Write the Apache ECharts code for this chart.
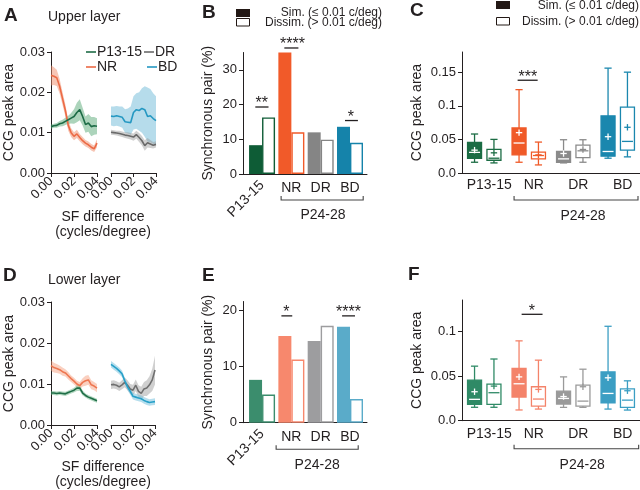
<!DOCTYPE html>
<html><head><meta charset="utf-8">
<script src="https://cdn.jsdelivr.net/npm/echarts@6/dist/echarts.min.js"></script>
<style>html,body{margin:0;padding:0;background:#fff}#c{width:640px;height:490px}</style>
</head><body><div id="c"></div>
<script>
// ---------------- data ----------------
const groups = ['P13-15', 'NR', 'DR', 'BD'];
const sfX = [0,0.0025,0.005,0.0075,0.01,0.0125,0.015,0.0175,0.02,0.0225,0.025,0.0275,0.03,0.0325,0.035,0.0375,0.04];
const sfTicks = [0, 0.02, 0.04];

// Panel A (upper layer) mean and confidence band
const upP13Mean = [.0115,.0117,.0118,.0122,.0124,.0128,.0132,.0136,.0140,.0150,.0157,.0140,.0120,.0124,.0115,.0117,.0116];
const upP13Lo   = [.0110,.0112,.0112,.0115,.0116,.0119,.0122,.0123,.0122,.0126,.0131,.0118,.0100,.0102,.0091,.0095,.0096];
const upP13Hi   = [.0120,.0122,.0124,.0129,.0132,.0137,.0142,.0149,.0158,.0174,.0183,.0162,.0140,.0146,.0139,.0139,.0136];
const upNRMean  = [.0242,.0240,.0236,.0215,.0185,.0155,.0118,.0100,.0091,.0097,.0088,.0080,.0074,.0070,.0064,.0060,.0074];
const upNRLo    = [.0217,.0218,.0216,.0197,.0169,.0140,.0105,.0089,.0081,.0087,.0079,.0071,.0066,.0062,.0056,.0052,.0064];
const upNRHi    = [.0267,.0262,.0256,.0233,.0201,.0170,.0131,.0111,.0101,.0107,.0097,.0089,.0082,.0078,.0072,.0068,.0084];
const upDRMean  = [.0101,.0100,.0099,.0098,.0096,.0094,.0093,.0091,.0089,.0095,.0088,.0080,.0068,.0075,.0072,.0069,.0071];
const upDRLo    = [.0095,.0094,.0093,.0091,.0089,.0087,.0085,.0083,.0080,.0085,.0077,.0068,.0055,.0063,.0062,.0061,.0063];
const upDRHi    = [.0107,.0106,.0105,.0105,.0103,.0101,.0101,.0099,.0098,.0105,.0099,.0092,.0081,.0087,.0082,.0077,.0079];
const upBDMean  = [.0141,.0140,.0142,.0140,.0138,.0127,.0126,.0125,.0150,.0157,.0155,.0160,.0157,.0140,.0142,.0135,.0130];
const upBDLo    = [.0118,.0116,.0117,.0115,.0112,.0100,.0098,.0095,.0108,.0110,.0105,.0100,.0090,.0078,.0076,.0072,.0070];
const upBDHi    = [.0165,.0165,.0166,.0165,.0165,.0158,.0160,.0165,.0190,.0198,.0200,.0210,.0215,.0212,.0208,.0198,.0190];

// Panel D (lower layer)
const lowP13Mean = [.0078,.0078,.0077,.0078,.0077,.0076,.0079,.0082,.0085,.0090,.0090,.0078,.0072,.0068,.0065,.0062,.0059];
const lowP13Lo   = [.0073,.0073,.0072,.0073,.0072,.0071,.0074,.0077,.0079,.0083,.0083,.0072,.0067,.0063,.0060,.0057,.0054];
const lowP13Hi   = [.0083,.0083,.0082,.0083,.0082,.0081,.0084,.0087,.0091,.0097,.0097,.0084,.0077,.0073,.0070,.0067,.0064];
const lowNRMean  = [.0145,.0140,.0138,.0135,.0130,.0127,.0120,.0113,.0107,.0100,.0096,.0104,.0108,.0110,.0098,.0095,.0090];
const lowNRLo    = [.0132,.0128,.0127,.0125,.0120,.0118,.0111,.0105,.0099,.0092,.0087,.0094,.0096,.0098,.0087,.0085,.0080];
const lowNRHi    = [.0158,.0152,.0149,.0145,.0140,.0136,.0129,.0121,.0115,.0108,.0105,.0114,.0120,.0122,.0109,.0105,.0100];
const lowDRMean  = [.0098,.0099,.0097,.0093,.0098,.0104,.0097,.0088,.0085,.0097,.0082,.0077,.0088,.0090,.0098,.0110,.0134];
const lowDRLo    = [.0088,.0089,.0087,.0083,.0087,.0092,.0085,.0076,.0072,.0083,.0067,.0061,.0071,.0071,.0077,.0083,.0099];
const lowDRHi    = [.0108,.0109,.0107,.0103,.0109,.0116,.0109,.0100,.0098,.0111,.0097,.0093,.0105,.0109,.0119,.0137,.0169];
const lowBDMean  = [.0148,.0143,.0138,.0132,.0125,.0108,.0093,.0082,.0070,.0068,.0066,.0064,.0060,.0057,.0055,.0056,.0057];
const lowBDLo    = [.0140,.0135,.0130,.0124,.0117,.0100,.0085,.0074,.0062,.0060,.0058,.0056,.0052,.0049,.0047,.0048,.0049];
const lowBDHi    = [.0156,.0151,.0146,.0140,.0133,.0116,.0101,.0090,.0078,.0076,.0074,.0072,.0068,.0065,.0063,.0064,.0065];

// Panels B / E: synchronous pair (%)
const barUpperSim = [8.3, 35.0, 12.0, 13.6];
const barUpperDis = [16.3, 12.0, 9.9, 9.0];
const barLowerSim = [7.6, 15.4, 14.5, 17.0];
const barLowerDis = [5.0, 11.2, 17.2, 4.2];

// Panels C / F: boxes [min, q1, median, q3, max, mean]
const boxUpperSim = [[0.016,0.0218,0.0307,0.0455,0.058,0.034],[0.016,0.027,0.0446,0.067,0.124,0.060],[0.015,0.016,0.021,0.032,0.0495,0.029],[0.022,0.025,0.032,0.085,0.156,0.054]];
const boxUpperDis = [[0.015,0.019,0.022,0.035,0.050,0.030],[0.012,0.021,0.026,0.031,0.046,0.027],[0.016,0.023,0.033,0.0416,0.0495,0.035],[0.024,0.034,0.047,0.098,0.150,0.068]];
const boxLowerSim = [[0.015,0.0183,0.0239,0.0454,0.061,0.0324],[0.012,0.0265,0.0413,0.0585,0.0893,0.049],[0.0149,0.0186,0.0249,0.0331,0.049,0.027],[0.013,0.0201,0.0305,0.0546,0.1056,0.048]];
const boxLowerDis = [[0.015,0.0183,0.0313,0.041,0.069,0.0387],[0.013,0.0164,0.0242,0.038,0.0677,0.035],[0.0149,0.0164,0.0219,0.0398,0.0576,0.038],[0.0119,0.0149,0.023,0.0357,0.0446,0.0335]];

// tick labels
const ticksA = [0, 0.01, 0.02, 0.03];
const ticksB = [0, 10, 20, 30];
const ticksC = [0, 0.05, 0.1, 0.15];
const ticksE = [0, 10, 20];
const ticksF = [0, 0.05, 0.1];

// ---------------- style ----------------
const FONT = "'Liberation Sans', Arial, Helvetica, sans-serif";
const TXT = '#231f20';
const AX = '#231f20';
const colUpper = ['#0e5c36', '#f15a29', '#858585', '#1583aa'];
const colLower = ['#3b8d6d', '#f7886d', '#9d9d9f', '#5aabc9'];
const colBoxC  = ['#1b6c44', '#f05a28', '#8a8a8a', '#1a87ae'];
const colBoxF  = ['#2f8a66', '#f4836a', '#9a9a9a', '#3b9ec3'];
const lineUp = {P13:'#1d6b46', NR:'#ec6a45', DR:'#6a6a6a', BD:'#2598c2'};
const bandUp = {P13:'rgba(90,170,120,0.5)', NR:'rgba(240,140,105,0.5)', DR:'rgba(150,150,150,0.45)', BD:'rgba(110,185,215,0.5)'};
const lineLow = {P13:'#1f6e48', NR:'#ee7650', DR:'#6f6f6f', BD:'#27a0c8'};
const bandLow = {P13:'rgba(90,170,120,0.45)', NR:'rgba(245,150,115,0.45)', DR:'rgba(150,150,150,0.45)', BD:'rgba(110,190,220,0.5)'};

const pairs = (xs, ys) => xs.map((x, i) => [x, ys[i]]);

function bandSeries(xi, yi, lo, hi, color) {
  return {type:'custom', xAxisIndex:xi, yAxisIndex:yi, silent:true, z:1,
    data:sfX.map((x, i) => [x, lo[i], hi[i]]),
    encode:{x:0, y:[1, 2]},
    renderItem:function (params, api) {
      if (params.dataIndexInside !== 0) return null;
      const n = params.dataInsideLength || sfX.length;
      const top = [], bot = [];
      for (let j = 0; j < n; j++) {
        top.push(api.coord([api.value(0, j), api.value(2, j)]));
        bot.push(api.coord([api.value(0, j), api.value(1, j)]));
      }
      return {type:'polygon', shape:{points:top.concat(bot.reverse())}, style:{fill:color}};
    }};
}
function meanSeries(xi, yi, mean, color) {
  return {type:'line', xAxisIndex:xi, yAxisIndex:yi, data:pairs(sfX, mean), symbol:'none',
    lineStyle:{color:color, width:1.6}, z:3};
}

function yAx(gi, max, ticks, fmt, name, nameGap, show) {
  return {type:'value', gridIndex:gi, min:0, max:max, show:show !== false,
    axisLine:{show:true, onZero:false, lineStyle:{color:AX, width:1}},
    axisTick:{show:true, length:4, customValues:ticks, lineStyle:{color:AX, width:1}},
    axisLabel:{customValues:ticks, formatter:fmt, fontSize:13, color:TXT, fontFamily:FONT, margin:6},
    splitLine:{show:false},
    name:name || '', nameLocation:'middle', nameGap:nameGap || 0,
    nameTextStyle:{fontSize:14, color:TXT, fontFamily:FONT}};
}
function sfAx(gi) {
  return {type:'value', gridIndex:gi, min:0, max:0.04, position:'bottom',
    axisLine:{show:true, onZero:false, lineStyle:{color:AX, width:1}},
    axisTick:{show:true, length:4, customValues:sfTicks, lineStyle:{color:AX}},
    axisLabel:{customValues:sfTicks, formatter:v => v.toFixed(2), rotate:45, margin:6, fontSize:13, color:TXT, fontFamily:FONT},
    splitLine:{show:false}};
}
function barAxes(gi) {
  return [
    {type:'value', gridIndex:gi, min:-0.65, max:3.58, position:'bottom',
     axisLine:{show:true, onZero:false, lineStyle:{color:AX, width:1}}, axisTick:{show:false},
     axisLabel:{customValues:[0], formatter:v => groups[Math.round(v)], rotate:45, margin:9, fontSize:14, color:TXT, fontFamily:FONT},
     splitLine:{show:false}},
    {type:'value', gridIndex:gi, min:-0.65, max:3.58, position:'bottom',
     axisLine:{show:false}, axisTick:{show:false},
     axisLabel:{customValues:[1,2,3], formatter:v => groups[Math.round(v)], margin:7, fontSize:14, color:TXT, fontFamily:FONT},
     splitLine:{show:false}}
  ];
}
function catAx(gi, margin) {
  return {type:'category', gridIndex:gi, data:groups, position:'bottom',
    axisLine:{show:true, onZero:false, lineStyle:{color:AX, width:1}}, axisTick:{show:false},
    axisLabel:{interval:0, fontSize:14, color:TXT, fontFamily:FONT, margin:margin, padding:[0,0,0,10]},
    splitLine:{show:false}};
}
function barSeries(xi, yi, sim, dis, cols) {
  return [
    {type:'bar', xAxisIndex:xi, yAxisIndex:yi, barWidth:13, barGap:'0%',
     data:sim.map((v, i) => ({value:[i, v], itemStyle:{color:cols[i]}}))},
    {type:'bar', xAxisIndex:xi, yAxisIndex:yi, barWidth:13, barGap:'0%',
     data:dis.map((v, i) => ({value:[i, v], itemStyle:{color:'#fff', borderColor:cols[i], borderWidth:1.4}}))}
  ];
}
function boxSeries(xi, yi, rows, cols, filled, side) {
  return {type:'custom', xAxisIndex:xi, yAxisIndex:yi, z:3,
    data:rows.map((r, i) => [i].concat(r)),
    encode:{x:0, y:[1,2,3,4,5,6]},
    renderItem:function (params, api) {
      const cat = api.value(0);
      const bw = api.size([1, 0])[0];
      const cx = api.coord([cat, 0])[0] + side * bw * 0.218;
      const y = k => api.coord([cat, api.value(k)])[1];
      const ymin = y(1), yq1 = y(2), ymed = y(3), yq3 = y(4), ymax = y(5), ymean = y(6);
      const col = cols[params.dataIndex];
      const hw = 7, cw = 3.6, lw = 1.3;
      const inner = filled ? '#ffffff' : col;
      const st = c => ({stroke:c, lineWidth:lw});
      return {type:'group', children:[
        {type:'line', shape:{x1:cx, y1:ymax, x2:cx, y2:ymin}, style:st(col)},
        {type:'line', shape:{x1:cx - cw, y1:ymax, x2:cx + cw, y2:ymax}, style:st(col)},
        {type:'line', shape:{x1:cx - cw, y1:ymin, x2:cx + cw, y2:ymin}, style:st(col)},
        {type:'rect', shape:{x:cx - hw, y:yq3, width:2 * hw, height:yq1 - yq3}, style:{fill:filled ? col : '#fff', stroke:col, lineWidth:lw}},
        {type:'line', shape:{x1:cx - hw + 1.5, y1:ymed, x2:cx + hw - 1.5, y2:ymed}, style:st(inner)},
        {type:'line', shape:{x1:cx - 3.2, y1:ymean, x2:cx + 3.2, y2:ymean}, style:st(inner)},
        {type:'line', shape:{x1:cx, y1:ymean - 3.2, x2:cx, y2:ymean + 3.2}, style:st(inner)}
      ]};
    }};
}

const fmt2 = v => v.toFixed(2);
const fmtC = v => (v === 0 ? '0.0' : String(+v.toFixed(2)));

const chart = echarts.init(document.getElementById('c'), null, {renderer:'canvas', width:640, height:490});

const grids = [
  {left:51, top:52, width:46, height:121},    // A1
  {left:111, top:52, width:45, height:121},   // A2
  {left:243, top:52.5, width:124, height:121.5}, // B
  {left:462, top:52, width:178, height:121},  // C
  {left:51, top:302, width:46, height:123},   // D1
  {left:111, top:302, width:44, height:123},  // D2
  {left:243, top:301.5, width:124, height:121.2}, // E
  {left:462, top:300, width:178, height:120.7} // F
].map(g => Object.assign({containLabel:false, outerBoundsMode:'none'}, g));

const bAx = barAxes(2), eAx = barAxes(6);
const xAxis = [sfAx(0), sfAx(1), bAx[0], bAx[1], catAx(3, 5), sfAx(4), sfAx(5), eAx[0], eAx[1], catAx(7, 6)];
const yAxis = [
  yAx(0, 0.03, ticksA, fmt2, 'CCG peak area', 30),
  yAx(1, 0.03, ticksA, fmt2, '', 0, false),
  yAx(2, 35, ticksB, v => String(v), 'Synchronous pair (%)', 28),
  yAx(3, 0.18, ticksC, fmtC, 'CCG peak area', 38),
  yAx(4, 0.03, ticksA, fmt2, 'CCG peak area', 30),
  yAx(5, 0.03, ticksA, fmt2, '', 0, false),
  yAx(6, 21.5, ticksE, v => String(v), 'Synchronous pair (%)', 28),
  yAx(7, 0.135, ticksF, fmtC, 'CCG peak area', 38)
];

const series = [
  bandSeries(0, 0, upNRLo, upNRHi, bandUp.NR),
  bandSeries(0, 0, upP13Lo, upP13Hi, bandUp.P13),
  meanSeries(0, 0, upNRMean, lineUp.NR), meanSeries(0, 0, upP13Mean, lineUp.P13),
  bandSeries(1, 1, upBDLo, upBDHi, bandUp.BD),
  bandSeries(1, 1, upDRLo, upDRHi, bandUp.DR),
  meanSeries(1, 1, upBDMean, lineUp.BD), meanSeries(1, 1, upDRMean, lineUp.DR),
  ...barSeries(2, 2, barUpperSim, barUpperDis, colUpper),
  boxSeries(4, 3, boxUpperSim, colBoxC, true, -1), boxSeries(4, 3, boxUpperDis, colBoxC, false, 1),
  bandSeries(5, 4, lowNRLo, lowNRHi, bandLow.NR),
  bandSeries(5, 4, lowP13Lo, lowP13Hi, bandLow.P13),
  meanSeries(5, 4, lowNRMean, lineLow.NR), meanSeries(5, 4, lowP13Mean, lineLow.P13),
  bandSeries(6, 5, lowDRLo, lowDRHi, bandLow.DR),
  bandSeries(6, 5, lowBDLo, lowBDHi, bandLow.BD),
  meanSeries(6, 5, lowDRMean, lineLow.DR), meanSeries(6, 5, lowBDMean, lineLow.BD),
  ...barSeries(7, 6, barLowerSim, barLowerDis, colLower),
  boxSeries(9, 7, boxLowerSim, colBoxF, true, -1), boxSeries(9, 7, boxLowerDis, colBoxF, false, 1)
];

chart.setOption({animation:false, backgroundColor:'#fff', grid:grids, xAxis:xAxis, yAxis:yAxis, series:series});

// ---------------- annotations ----------------
const sigB = [{cat:0, x1:-0.23, x2:0.22, tx:-0.01, y:19.3, text:'**'}, {cat:1, x1:-0.24, x2:0.24, tx:0.04, y:36.3, text:'****'}, {cat:3, x1:-0.17, x2:0.27, tx:0.03, y:15.4, text:'*'}];
const sigE = [{cat:1, x1:-0.34, x2:0.03, tx:-0.17, y:18.95, text:'*'}, {cat:3, x1:-0.27, x2:0.17, tx:-0.05, y:18.95, text:'****'}];
const sigC = [{cat:1, x1:-0.25, x2:0.2, tx:-0.02, y:0.138, text:'***'}];
const sigF = [{cat:1, x1:-0.16, x2:0.31, tx:0.07, y:0.119, text:'*'}];
const brackets = [
  {xi:2, yi:2, u1:0.65, u2:3.45, ul:2.08, dy:26, dl:41},
  {xi:7, yi:6, u1:0.48, u2:3.28, ul:1.88, dy:26.5, dl:42},
  {xi:4, yi:3, u1:0.67, u2:3.455, ul:2.22, dy:27, dl:43},
  {xi:9, yi:7, u1:0.67, u2:3.47, ul:2.2, dy:28, dl:44}
];

const px = (xi, yi, x, y) => chart.convertToPixel({xAxisIndex:xi, yAxisIndex:yi}, [x, y]);
const g = [];
const T = (text, x, y, size, opt) => Object.assign({type:'text', x:x, y:y, z:10,
  style:Object.assign({text:text, font:size + 'px ' + FONT, fill:TXT, align:'left', verticalAlign:'middle', textAlign:'left', textVerticalAlign:'middle'}, (opt && opt.style) || {})},
  opt && opt.rotation ? {rotation:opt.rotation} : {});

function addSig(xi, yi, list) {
  list.forEach(s => {
    const p0 = px(xi, yi, s.cat, s.y), p1 = px(xi, yi, s.cat + 1, s.y);
    const bw = p1[0] - p0[0];
    g.push({type:'line', z:10, shape:{x1:p0[0] + s.x1 * bw, y1:p0[1], x2:p0[0] + s.x2 * bw, y2:p0[1]}, style:{stroke:TXT, lineWidth:1.3}});
    g.push(T(s.text, p0[0] + s.tx * bw, p0[1] - 3, 16, {style:{align:'center', textAlign:'center'}}));
  });
}
addSig(2, 2, sigB); addSig(7, 6, sigE); addSig(4, 3, sigC); addSig(9, 7, sigF);

brackets.forEach(b => {
  const p0 = px(b.xi, b.yi, 0, 0), p1 = px(b.xi, b.yi, 1, 0);
  const bw = p1[0] - p0[0];
  const yb = p0[1] + b.dy, xa = p0[0] + b.u1 * bw, xb = p0[0] + b.u2 * bw;
  g.push({type:'polyline', z:10, shape:{points:[[xa, yb - 4], [xa, yb], [xb, yb], [xb, yb - 4]]}, style:{stroke:'#444', lineWidth:1.1, fill:null}});
  g.push(T('P24-28', p0[0] + b.ul * bw, p0[1] + b.dl, 14, {style:{align:'center', textAlign:'center'}}));
});

// panel letters, titles, legends
[['A', 4, 16], ['B', 202, 13], ['C', 410, 11], ['D', 3, 276], ['E', 202, 276], ['F', 408, 275]].forEach(l => {
  g.push(T(l[0], l[1], l[2], 19, {style:{font:'bold 19px ' + FONT}}));
});
g.push(T('Upper layer', 48, 17, 14));
g.push(T('Lower layer', 48, 280, 14));
[[217, 232], [467, 482]].forEach(r => {
  g.push(T('SF difference', 103, r[0], 14, {style:{align:'center', textAlign:'center'}}));
  g.push(T('(cycles/degree)', 103, r[1], 14, {style:{align:'center', textAlign:'center'}}));
});
// legend of panel A
[[86, 52, lineUp.P13, 'P13-15'], [144, 52, lineUp.DR, 'DR'], [86, 67, lineUp.NR, 'NR'], [147, 67, lineUp.BD, 'BD']].forEach(l => {
  g.push({type:'line', z:10, shape:{x1:l[0], y1:l[1], x2:l[0] + 10, y2:l[1]}, style:{stroke:l[2], lineWidth:1.6}});
  g.push(T(l[3], l[0] + 11, l[1], 14));
});
// sim / dissim legends
[[236, 382, 9, 13, 22.5], [496, 639, 1, 6, 21.5]].forEach(l => {
  g.push({type:'rect', z:10, shape:{x:l[0], y:l[2], width:14, height:8}, style:{fill:'#231815'}});
  g.push({type:'rect', z:10, shape:{x:l[0] + 0.5, y:l[4] - 4, width:13, height:7.5}, style:{fill:'#fff', stroke:'#231815', lineWidth:1}});
  g.push(T('Sim. (\u2264 0.01 c/deg)', l[1], l[3], 12, {style:{align:'right', textAlign:'right'}}));
  g.push(T('Dissim. (> 0.01 c/deg)', l[1], l[4], 12, {style:{align:'right', textAlign:'right'}}));
});

chart.setOption({graphic:{elements:g}});
</script>
</body></html>
